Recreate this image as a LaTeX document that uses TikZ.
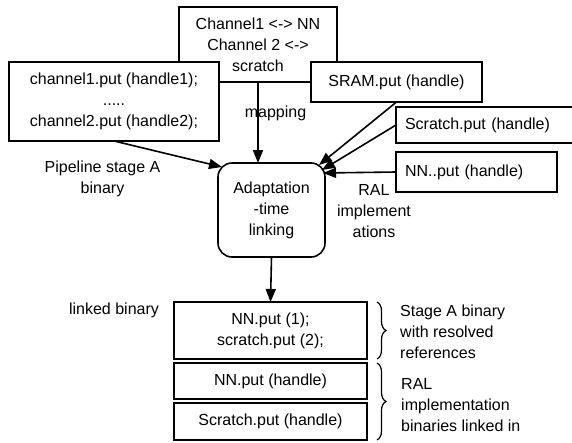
\documentclass[tikz,border=0pt]{standalone}
\usepackage{fontspec}
\setmainfont{Liberation Sans}
\usetikzlibrary{arrows.meta,decorations.pathreplacing,calc}
\begin{document}
\begin{tikzpicture}[x=1pt,y=-1pt,
  box/.style={draw,line width=1.6pt,fill=white,inner sep=0pt,outer sep=0pt,align=center,font=\fontsize{16}{21}\selectfont},
  lbox/.style={box,align=left,inner xsep=9pt},
  txt/.style={align=center,inner sep=0pt,font=\fontsize{16}{21}\selectfont},
  arr/.style={line width=1.6pt,-{Triangle[length=13pt,width=10pt]}},
  brc/.style={decorate,decoration={brace,amplitude=9pt},line width=1.2pt}]
\useasboundingbox (0,0) rectangle (572,442);
% boxes
\node[box,minimum width=158pt,minimum height=75pt] (top) at (258,44.5) {Channel1 <-> NN\\Channel 2 <->\\scratch};
\node[box,minimum width=210pt,minimum height=79pt] (left) at (114,101.5) {channel1.put (handle1);\\.....\\channel2.put (handle2);};
\node[box,minimum width=171pt,minimum height=40pt] (sram) at (396.5,82) {SRAM.put (handle)};
\node[lbox,text width=166pt,minimum height=36pt] (scratch) at (488,125) {Scratch.put (handle)};
\node[lbox,text width=143pt,minimum height=40pt] (nn) at (476.5,172) {NN..put (handle)};
\node[box,rounded corners=14pt,minimum width=107pt,minimum height=94pt] (adapt) at (271.5,210) {Adaptation\\-time\\linking};
\node[box,minimum width=193pt,minimum height=57pt] (b1) at (270.5,330.5) {NN.put (1);\\scratch.put (2);};
\node[box,minimum width=193pt,minimum height=36pt] (b2) at (270.5,381) {NN.put (handle)};
\node[box,minimum width=193pt,minimum height=37pt] (b3) at (270.5,421.5) {Scratch.put (handle)};
% labels
\node[txt] (lpipe) at (102.5,178.5) {Pipeline stage A\\binary};
\node[txt] (lmap) at (275.5,113) {mapping};
\node[txt] (llinked) at (114,310.5) {linked binary};
\node[txt] (lral) at (374,211.5) {RAL\\implement\\ations};
\node[txt,align=left,anchor=west] (lstage) at (400,332) {Stage A binary\\with resolved\\references};
\node[txt,align=left,anchor=west] (lralimpl) at (401,405) {RAL\\implementation\\binaries linked in};
% arrows
\draw[arr] (left.south) -- ([shift={(4,4)}]adapt.north west);
\draw[arr] (top.south) -- (top.south |- adapt.north);
\draw[arr] (sram.south) -- ([shift={(-6,2)}]adapt.north east);
\draw[arr] (scratch.west) -- ([shift={(-3,7)}]adapt.north east);
\draw[arr] (nn.west) -- ([shift={(-2,10)}]adapt.north east);
\draw[arr] (adapt.south) -- (b1.north);
% braces
\draw[brc] ([xshift=10pt]b1.north east) -- ([xshift=10pt]b1.south east);
\draw[brc] ([xshift=10pt]b2.north east) -- ([xshift=10pt]b3.south east);
\end{tikzpicture}
\end{document}
